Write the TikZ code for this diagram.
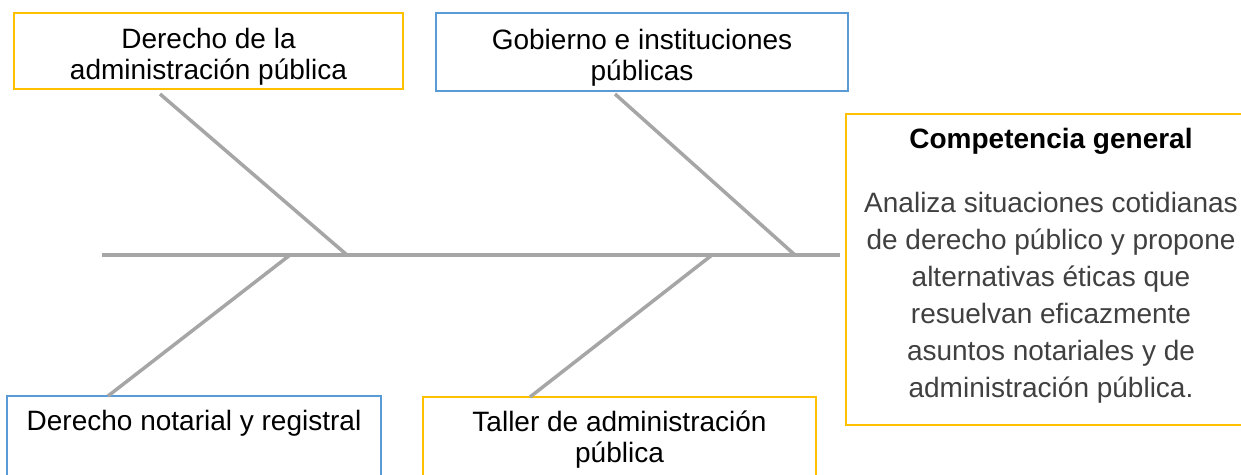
\documentclass[tikz,border=0pt]{standalone}
\usepackage{fontspec}
\setmainfont{Liberation Sans}
\definecolor{yel}{HTML}{FFC000}
\definecolor{blu}{HTML}{5B9BD5}
\definecolor{bone}{HTML}{A6A6A6}
\definecolor{bodytxt}{HTML}{404040}
\begin{document}
\begin{tikzpicture}[x=1pt,y=-1pt,
  boxy/.style={draw=yel,line width=2.5pt},
  boxb/.style={draw=blu,line width=2.5pt},
  lbl/.style={anchor=base,align=center,font=\fontsize{28}{31}\selectfont,inner sep=0pt},
  bonestyle/.style={draw=bone,line width=3.5pt}]
\useasboundingbox (0,0) rectangle (1241,474);
% boxes
\path[boxy] (14,13) rectangle (403,89);
\path[boxb] (436,13) rectangle (848,91);
\path[boxy] (846,114) rectangle (1245,425);
\path[boxb] (7,396) rectangle (381,480);
\path[boxy] (423,397) rectangle (816,480);
% texts (base anchor = last line baseline)
\node[lbl] (a) at (208.5,79) {Derecho de la\\administración pública};
\node[lbl] (b) at (642,80) {Gobierno e instituciones\\públicas};
\node[lbl] (c) at (194,430) {Derecho notarial y registral};
\node[lbl] (d) at (619.5,462) {Taller de administración\\pública};
\node[anchor=base,inner sep=0pt,font=\fontsize{28}{31}\selectfont\bfseries] (t) at (1051,148) {Competencia general};
\node[anchor=base,align=center,inner sep=0pt,text=bodytxt,font=\fontsize{28}{37}\selectfont] (g) at (1051,397) {Analiza situaciones cotidianas\\de derecho público y propone\\alternativas éticas que\\resuelvan eficazmente\\asuntos notariales y de\\administración pública.};
% fishbone
\coordinate (s0) at (102,255);
\coordinate (s1) at (840,255);
\coordinate (ua) at (160,94);
\coordinate (ub) at (615,94);
\coordinate (ja) at (347,255);
\coordinate (jb) at (795,255);
\coordinate (jc) at (290,255);
\coordinate (jd) at (712,255);
\coordinate (lc) at (108,396);
\coordinate (ld) at (530,397);
\draw[bonestyle] (s0) -- (s1);
\draw[bonestyle] (ua) -- (ja);
\draw[bonestyle] (ub) -- (jb);
\draw[bonestyle] (jc) -- (lc);
\draw[bonestyle] (jd) -- (ld);
\end{tikzpicture}
\end{document}
